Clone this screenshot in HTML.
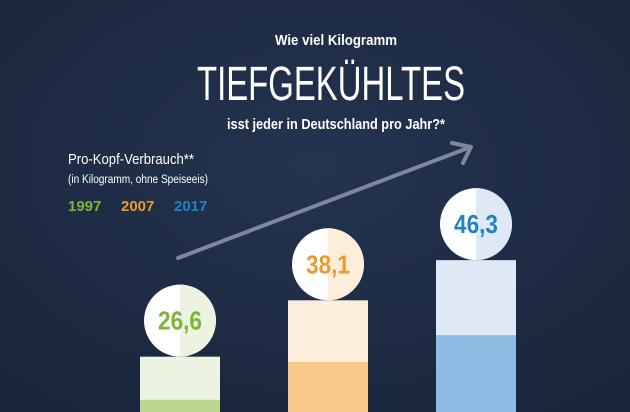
<!DOCTYPE html>
<html><head><meta charset="utf-8"><style>
html,body{margin:0;padding:0;background:#1d2c45;width:630px;height:412px;overflow:hidden;}
svg{display:block;overflow:hidden;font-family:"Liberation Sans Narrow","Liberation Sans",sans-serif;}
</style></head><body>
<svg width="630" height="412" viewBox="0 0 630 412">
<defs>
<radialGradient id="bg" cx="0.5" cy="0.4" r="0.8">
<stop offset="0" stop-color="#24344f"/><stop offset="1" stop-color="#17243a"/>
</radialGradient>
<clipPath id="frame"><rect width="630" height="412"/></clipPath>
</defs>
<rect width="630" height="412" fill="url(#bg)"/>
<text x="336" y="45" fill="#fff" font-size="15" font-weight="bold" text-anchor="middle" textLength="122" lengthAdjust="spacingAndGlyphs">Wie viel Kilogramm</text>
<text x="331" y="100" fill="#fff" font-size="48" text-anchor="middle" textLength="268" lengthAdjust="spacingAndGlyphs">TIEFGEKÜHLTES</text>
<text x="336" y="129" fill="#fff" font-size="15" font-weight="bold" text-anchor="middle" textLength="218" lengthAdjust="spacingAndGlyphs">isst jeder in Deutschland pro Jahr?*</text>
<text x="68" y="164" fill="#fff" font-size="15" textLength="126" lengthAdjust="spacingAndGlyphs">Pro-Kopf-Verbrauch**</text>
<text x="68" y="183" fill="#fff" font-size="11.5" textLength="140" lengthAdjust="spacingAndGlyphs">(in Kilogramm, ohne Speiseeis)</text>
<g id="legend" font-size="15" font-weight="bold"></g>
<line x1="178" y1="258" x2="468" y2="148" stroke="#7c889b" stroke-width="4" stroke-linecap="round"/>
<polyline points="452,143 471,147 463,163" fill="none" stroke="#7c889b" stroke-width="4" stroke-linecap="round" stroke-linejoin="round"/>
<g id="bars" clip-path="url(#frame)"></g>
</svg>
<script>
const categories = ["1997","2007","2017"];
const values = [26.6, 38.1, 46.3];
const innerValues = [17.8, 25.5, 31.0];
const labels = ["26,6","38,1","46,3"];
const colors = ["#7db43a","#ec9a2c","#1f83c6"];
const lightColors = ["#edf3e1","#fdeedc","#dfe8f5"];
const midColors = ["#bcd88f","#f8c98a","#8dbce4"];

const NS = "http://www.w3.org/2000/svg";
const baseY = 487, pxPerUnit = 4.9, frameBottom = 412;
function yPos(v){ return baseY - v * pxPerUnit; }
function xPos(i){ return 140 + i * 148; }
const barW = 80, r = 36;

const legend = document.getElementById('legend');
categories.forEach((c, i) => {
  const t = document.createElementNS(NS, 'text');
  t.setAttribute('x', 68 + i * 53);
  t.setAttribute('y', 211);
  t.setAttribute('fill', colors[i]);
  t.textContent = c;
  
  
  legend.appendChild(t);
});

const g = document.getElementById('bars');
values.forEach((v, i) => {
  const x = xPos(i), top = yPos(v), inner = yPos(innerValues[i]);
  const b = document.createElementNS(NS, 'rect');
  b.setAttribute('x', x); b.setAttribute('y', top);
  b.setAttribute('width', barW); b.setAttribute('height', Math.max(0, frameBottom - top));
  b.setAttribute('fill', lightColors[i]);
  
  
  g.appendChild(b);
  const f = document.createElementNS(NS, 'rect');
  f.setAttribute('x', x); f.setAttribute('y', inner);
  f.setAttribute('width', barW); f.setAttribute('height', Math.max(0, frameBottom - inner));
  f.setAttribute('fill', midColors[i]);
  
  
  g.appendChild(f);
  const cx = x + barW / 2, cy = top - r;
  const c = document.createElementNS(NS, 'circle');
  c.setAttribute('cx', cx); c.setAttribute('cy', cy); c.setAttribute('r', r);
  c.setAttribute('fill', '#ffffff');
  
  
  g.appendChild(c);
  const h = document.createElementNS(NS, 'path');
  h.setAttribute('d', `M${cx},${cy - r} A${r},${r} 0 0 1 ${cx},${cy + r} Z`);
  h.setAttribute('fill', lightColors[i]);
  
  
  g.appendChild(h);
  const t = document.createElementNS(NS, 'text');
  t.setAttribute('x', cx); t.setAttribute('y', cy + 9);
  t.setAttribute('text-anchor', 'middle');
  t.setAttribute('font-size', '26'); t.setAttribute('font-weight', 'bold');
  t.setAttribute('textLength', '44'); t.setAttribute('lengthAdjust', 'spacingAndGlyphs');
  t.setAttribute('fill', colors[i]);
  t.textContent = labels[i];
  
  
  g.appendChild(t);
});
</script>
</body></html>
